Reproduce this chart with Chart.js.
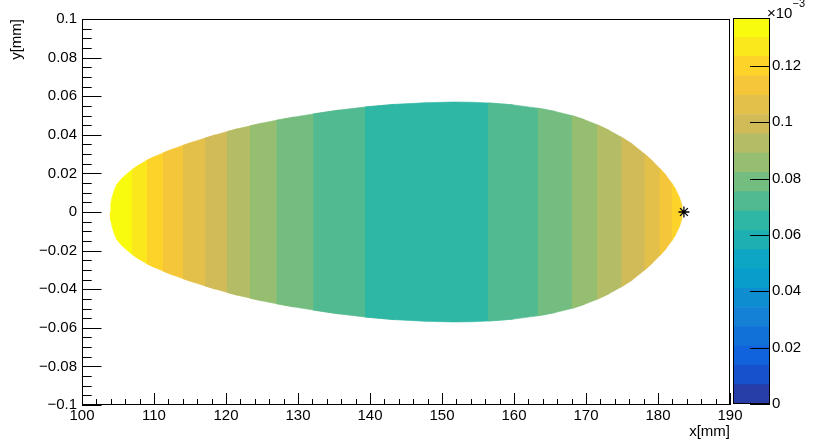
<!DOCTYPE html>
<html>
<head>
<meta charset="utf-8">
<script src="https://cdn.jsdelivr.net/npm/chart.js@4.4.1/dist/chart.umd.min.js"></script>
<style>
  body { margin: 0; background: #fff; }
  #wrap { position: relative; width: 814px; height: 442px; background: #fff; }
  #wrap canvas { position: absolute; top: 0; }
  #zexp { position: absolute; left: 767px; top: 5px; font: 15px/15px "Liberation Sans", Arial, sans-serif; color: #000; }
  #zexp span { position: relative; top: -11px; font-size: 11px; }
</style>
</head>
<body>
<div id="wrap">
  <canvas id="hist" width="814" height="442" style="left:0"></canvas>
  <canvas id="palette" width="94" height="442" style="left:720px"></canvas>
  <div id="zexp">×10<span>−3</span></div>
</div>
<script>
// x bin edges of the colour bands (mm), left tip to right tip
const bandEdges = [103.9, 106.9, 109.0, 111.25, 114.0, 117.1, 120.1, 123.3, 127.0, 132.1,
  139.3, 156.4, 163.3, 168.0, 171.5, 174.9, 178.1, 180.2, 181.9, 183.4];
// content of each band (x10^-3)
const bandValues = [0.133, 0.127, 0.120, 0.113, 0.106, 0.099, 0.092, 0.086, 0.079, 0.072,
  0.065, 0.072, 0.079, 0.086, 0.092, 0.099, 0.106, 0.113, 0.120];

// outline of the filled region: x (mm) and half height (mm)
const outlineX = [103.9, 104.0, 104.2, 104.5, 104.8, 105.5, 106.2, 106.9, 108.0, 109.0, 110.1,
  111.25, 112.6, 114.0, 115.5, 117.1, 118.6, 120.1, 121.7, 123.3, 125.1,
  127.0, 129.5, 132.1, 135.7, 139.3, 143.5, 147.5, 151.5, 154.0, 156.4,
  159.9, 163.3, 165.7, 168.0, 169.8, 171.5, 173.2, 174.9, 176.5, 178.1,
  179.2, 180.2, 181.1, 181.9, 182.5, 183.0, 183.3, 183.4];
const outlineHalf = [0, 0.0045, 0.008, 0.0115, 0.0142, 0.0173, 0.0197, 0.0218, 0.0246, 0.0268, 0.0288,
  0.0306, 0.0326, 0.0345, 0.0364, 0.0383, 0.0400, 0.0416, 0.0432, 0.0446, 0.0461,
  0.0475, 0.0492, 0.0508, 0.0528, 0.0544, 0.0558, 0.0566, 0.0570, 0.0569, 0.0565,
  0.0555, 0.0538, 0.0521, 0.0500, 0.0478, 0.0453, 0.0423, 0.0388, 0.0350, 0.0302,
  0.0265, 0.0228, 0.0190, 0.0150, 0.0113, 0.0075, 0.0038, 0];

// source position marker
const markerX = [183.6];
const markerY = [0];

// palette axis
const zMax = 0.137;
const nLevels = 20;

const FONT = { family: '"Liberation Sans", Arial, sans-serif', size: 15 };

// ROOT kBird palette
const birdStops = [0.0, 0.125, 0.25, 0.375, 0.5, 0.625, 0.75, 0.875, 1.0];
const birdR = [0.2082, 0.0592, 0.0780, 0.0232, 0.1802, 0.5301, 0.8186, 0.9956, 0.9764];
const birdG = [0.1664, 0.3599, 0.5041, 0.6419, 0.7178, 0.7492, 0.7328, 0.7862, 0.9832];
const birdB = [0.5293, 0.8684, 0.8385, 0.7914, 0.6425, 0.4662, 0.3499, 0.1968, 0.0539];

function bird(f) {
  f = Math.max(0, Math.min(1, f));
  let i = 0;
  while (i < birdStops.length - 2 && f > birdStops[i + 1]) i++;
  const t = (f - birdStops[i]) / (birdStops[i + 1] - birdStops[i]);
  const c = a => Math.round(255 * (a[i] + (a[i + 1] - a[i]) * t));
  return 'rgb(' + c(birdR) + ',' + c(birdG) + ',' + c(birdB) + ')';
}

function levelColor(level) {
  const idx = Math.floor((level + 0.99) * 255 / nLevels);
  return bird(idx / 254);
}

function colorFor(v) {
  const level = Math.min(nLevels - 1, Math.floor(v / (zMax / nLevels)));
  return levelColor(level);
}

// indices of the outline points of one band, plus the first point past it
// so the next band is painted over the join and no white seam shows
function bandIdx(a, b) {
  const idx = [];
  outlineX.forEach((x, i) => { if (x >= a && x <= b) idx.push(i); });
  const last = idx[idx.length - 1];
  if (last + 1 < outlineX.length) idx.push(last + 1);
  return idx;
}

const bandSets = [];
for (let k = 0; k < bandValues.length; k++) {
  const col = colorFor(bandValues[k]);
  const idx = bandIdx(bandEdges[k], bandEdges[k + 1]);
  bandSets.push([
    {
      data: idx.map(i => ({ x: outlineX[i], y: outlineHalf[i] })),
      fill: '+1', backgroundColor: col, borderColor: col, borderWidth: 0.6,
      pointRadius: 0, tension: 0
    },
    {
      data: idx.map(i => ({ x: outlineX[i], y: -outlineHalf[i] })),
      fill: false, borderColor: col, borderWidth: 0.6,
      pointRadius: 0, tension: 0
    }
  ]);
}
// dataset 0 is painted last, so the rightmost band goes first
const histDatasets = [{
  data: markerX.map((x, i) => ({ x: x, y: markerY[i] })),
  showLine: false, pointStyle: 'star', pointRadius: 5.5,
  borderColor: '#000', backgroundColor: '#000', borderWidth: 1.3
}];
bandSets.reverse().forEach(p => histDatasets.push(p[0], p[1]));

// ROOT style frame with ticks pointing inwards
const frameTicks = {
  id: 'frameTicks',
  afterDatasetsDraw(chart) {
    const { ctx, chartArea: a, scales: { x, y } } = chart;
    ctx.save();
    ctx.strokeStyle = '#000';
    ctx.lineWidth = 1;
    ctx.beginPath();
    const nx = Math.round((x.max - x.min) / 2);
    for (let i = 0; i <= nx; i++) {
      const px = Math.round(x.getPixelForValue(x.min + i * 2)) + 0.5;
      const len = i % 5 === 0 ? 12 : 6;
      ctx.moveTo(px, a.bottom);
      ctx.lineTo(px, a.bottom - len);
    }
    const ny = Math.round((y.max - y.min) / 0.005);
    for (let i = 0; i <= ny; i++) {
      const py = Math.round(y.getPixelForValue(y.min + i * 0.005)) + 0.5;
      const len = i % 4 === 0 ? 19.5 : 9.7;
      ctx.moveTo(a.left, py);
      ctx.lineTo(a.left + len, py);
    }
    ctx.stroke();
    ctx.strokeRect(Math.round(a.left) + 0.5, Math.round(a.top) + 0.5,
      Math.round(a.width) - 1, Math.round(a.height) - 1);
    ctx.restore();
  }
};

const fmt = v => {
  const r = Math.round(v * 1000) / 1000;
  return r < 0 ? '\u2212' + String(-r) : String(r);
};

new Chart(document.getElementById('hist'), {
  type: 'line',
  data: { datasets: histDatasets },
  options: {
    responsive: false,
    animation: false,
    devicePixelRatio: 1,
    layout: { padding: { left: 0, top: 19, right: 84, bottom: 0 } },
    plugins: { legend: { display: false }, tooltip: { enabled: false } },
    scales: {
      x: {
        type: 'linear', min: 100, max: 190,
        grid: { display: false, drawTicks: false },
        border: { display: false },
        ticks: { stepSize: 10, autoSkip: false, maxRotation: 0, padding: 2, color: '#000', font: FONT,
          callback: v => String(v) },
        title: { display: true, text: 'x[mm]', align: 'end', color: '#000', font: FONT,
          padding: { top: 0, bottom: 1 } },
        afterFit: s => { s.height = 37; }
      },
      y: {
        type: 'linear', min: -0.1, max: 0.1,
        grid: { display: false, drawTicks: false },
        border: { display: false },
        ticks: { stepSize: 0.02, autoSkip: false, padding: 5, color: '#000', font: FONT,
          callback: fmt },
        title: { display: true, text: 'y[mm]', align: 'end', color: '#000', font: FONT,
          padding: { top: 8, bottom: 0 } },
        afterFit: s => { s.width = 82; }
      }
    }
  },
  plugins: [frameTicks]
});

// palette: one stacked bar made of the contour levels
const paletteSets = [];
for (let l = 0; l < nLevels; l++) {
  paletteSets.push({
    data: [zMax / nLevels], backgroundColor: levelColor(l), borderWidth: 0,
    barPercentage: 1, categoryPercentage: 1
  });
}

const paletteTicks = {
  id: 'paletteTicks',
  afterDatasetsDraw(chart) {
    const { ctx, chartArea: a, scales: { y } } = chart;
    ctx.save();
    ctx.strokeStyle = '#000';
    ctx.lineWidth = 1;
    ctx.beginPath();
    y.ticks.forEach(t => {
      const py = Math.round(y.getPixelForValue(t.value)) + 0.5;
      ctx.moveTo(a.right, py);
      ctx.lineTo(a.right - 20, py);
    });
    ctx.stroke();
    ctx.strokeRect(Math.round(a.left) + 0.5, Math.round(a.top) + 0.5,
      Math.round(a.width) - 1, Math.round(a.height) - 1);
    ctx.restore();
  }
};

new Chart(document.getElementById('palette'), {
  type: 'bar',
  data: { labels: [''], datasets: paletteSets },
  options: {
    responsive: false,
    animation: false,
    devicePixelRatio: 1,
    layout: { padding: { left: 13, top: 18, right: 0, bottom: 38 } },
    plugins: { legend: { display: false }, tooltip: { enabled: false } },
    scales: {
      x: { stacked: true, display: false },
      y: {
        stacked: true, position: 'right', min: 0, max: zMax,
        grid: { display: false, drawTicks: false },
        border: { display: false },
        ticks: { stepSize: 0.02, includeBounds: false, padding: 2, color: '#000', font: FONT,
          callback: v => String(Math.round(v * 1000) / 1000) },
        afterFit: s => { s.width = 44; }
      }
    }
  },
  plugins: [paletteTicks]
});
</script>
</body>
</html>
